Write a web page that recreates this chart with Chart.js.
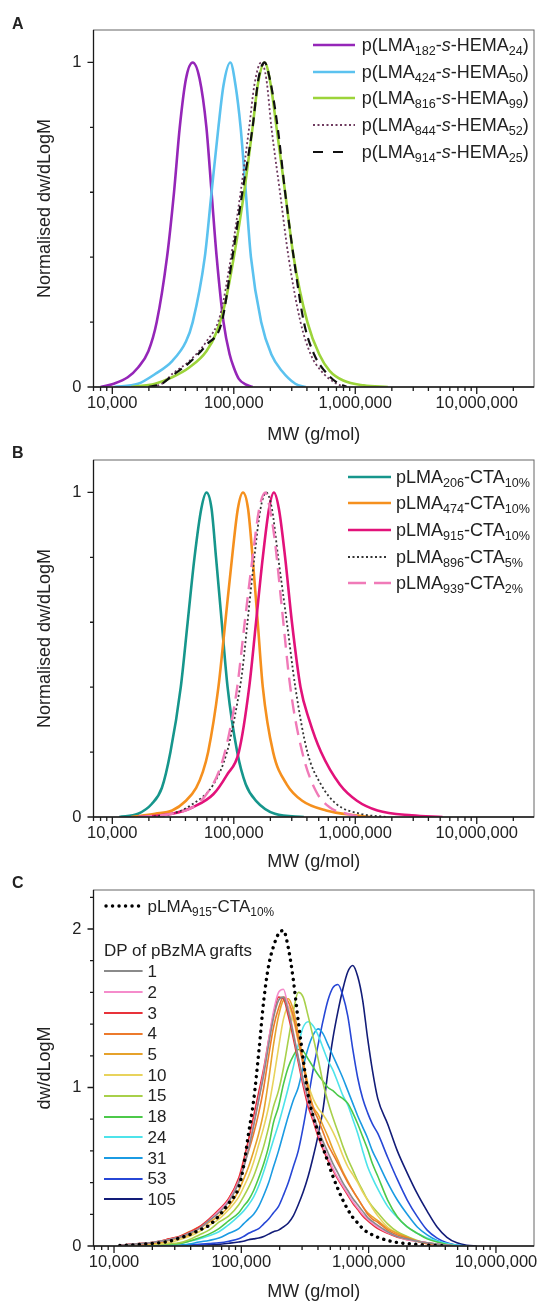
<!DOCTYPE html>
<html lang="en">
<head>
<meta charset="UTF-8">
<title>GPC traces of pLMA copolymers and graft copolymers</title>
<script src="https://cdn.jsdelivr.net/npm/chart.js"></script>
<style>
  body { margin: 0; background: #fff; font-family: "Liberation Sans", Arial, sans-serif; color: #222; }
  #page { position: relative; width: 541px; height: 1303px; overflow: hidden; background: #fff; }
  canvas { position: absolute; left: 0; }
  .tag { position: absolute; left: 12px; font-weight: bold; font-size: 16px; line-height: 1; }
  .lg { position: absolute; display: flex; align-items: center; height: 24px; white-space: nowrap; line-height: 1; }
  .lg svg { flex: none; display: block; }
  .lg sub { font-size: 70%; vertical-align: -0.35em; line-height: 0; }
  .lg-head { position: absolute; font-size: 17px; line-height: 1; white-space: nowrap; }
</style>
</head>
<body>
<div id="page">
  <canvas id="chartA" width="541" height="446" style="top:0"></canvas>
  <canvas id="chartB" width="541" height="453" style="top:420px"></canvas>
  <canvas id="chartC" width="541" height="443" style="top:860px"></canvas>
  <div class="tag" style="top:16px">A</div>
  <div class="tag" style="top:445px">B</div>
  <div class="tag" style="top:875px">C</div>
  <div class="lg-head" style="left:104px; top:942px">DP of pBzMA grafts</div>
</div>

<script>
  // ---- Panel A: p(LMA-s-HEMA) statistical copolymers (normalised) ----
  const aPurpleMw = [8000, 10300, 13400, 16300, 19800, 23200, 28200, 32200, 35900, 40400, 45900, 52300, 59500, 65600, 72300, 82300, 92500, 100000, 110000, 125000, 143000];
  const aPurple   = [0, 0.01, 0.03, 0.06, 0.11, 0.2, 0.4, 0.6, 0.8, 0.95, 1.0, 0.95, 0.8, 0.6, 0.4, 0.2, 0.1, 0.06, 0.025, 0.008, 0];
  const aBlueMw = [10300, 16300, 22500, 31100, 40400, 45900, 57700, 65600, 74700, 82300, 93700, 103300, 113800, 125600, 138400, 168000, 204000, 248000, 321000, 390000];
  const aBlue   = [0, 0.01, 0.04, 0.08, 0.14, 0.2, 0.4, 0.6, 0.8, 0.93, 1.0, 0.93, 0.8, 0.6, 0.4, 0.2, 0.1, 0.05, 0.01, 0];
  const aGreenMw = [14300, 22500, 31100, 43000, 59500, 72300, 85000, 100000, 121600, 142800, 157400, 179400, 201600, 224700, 264600, 311000, 403400, 506000, 614700, 796700, 1175000, 1853000];
  const aGreen   = [0, 0.01, 0.03, 0.06, 0.11, 0.17, 0.26, 0.4, 0.6, 0.8, 0.93, 1.0, 0.93, 0.8, 0.6, 0.4, 0.2, 0.1, 0.05, 0.02, 0.005, 0];
  const aDotMw = [19800, 25600, 31100, 43000, 59500, 77100, 94800, 113800, 133900, 147600, 168000, 185200, 204000, 240000, 282300, 354200, 430200, 522600, 699700, 851000];
  const aDot   = [0, 0.01, 0.04, 0.08, 0.14, 0.22, 0.4, 0.6, 0.8, 0.93, 1.0, 0.95, 0.8, 0.6, 0.4, 0.2, 0.1, 0.05, 0.01, 0];
  const aDashMw = [19800, 25600, 31100, 43000, 59500, 79600, 97400, 117600, 142800, 159600, 179400, 197800, 229700, 264600, 311000, 377300, 459000, 558000, 699700, 851000];
  const aDash   = [0, 0.01, 0.035, 0.075, 0.13, 0.2, 0.4, 0.6, 0.8, 0.95, 1.0, 0.95, 0.8, 0.6, 0.4, 0.2, 0.1, 0.05, 0.015, 0];

  // ---- Panel B: pLMA-CTA macromonomers (normalised) ----
  const bTealMw = [11400, 16300, 21100, 25600, 30100, 36600, 41700, 47500, 54000, 59600, 65600, 71400, 79600, 88900, 106700, 125600, 152400, 217900, 377000];
  const bTeal   = [0, 0.01, 0.04, 0.09, 0.2, 0.4, 0.6, 0.8, 0.95, 1.0, 0.95, 0.8, 0.6, 0.4, 0.2, 0.1, 0.05, 0.01, 0];
  const bOrangeMw = [14300, 22500, 31100, 40400, 49000, 55700, 61500, 74700, 85100, 96800, 108000, 119000, 131000, 142800, 157400, 173300, 210700, 273400, 365700, 576400, 1000000, 1340000];
  const bOrange   = [0, 0.01, 0.02, 0.05, 0.09, 0.14, 0.2, 0.4, 0.6, 0.8, 0.95, 1.0, 0.95, 0.8, 0.6, 0.4, 0.2, 0.1, 0.05, 0.02, 0.005, 0];
  const bPinkMw = [16300, 31100, 45900, 67800, 87900, 110000, 133900, 152400, 173300, 195000, 213900, 235000, 264600, 301000, 354200, 417000, 522600, 746000, 1032000, 1524000, 2917000, 5226000];
  const bPink   = [0, 0.01, 0.03, 0.07, 0.13, 0.2, 0.4, 0.6, 0.8, 0.95, 1.0, 0.95, 0.8, 0.6, 0.4, 0.3, 0.2, 0.1, 0.05, 0.02, 0.005, 0];
  const bDotMw = [18500, 31100, 45900, 67800, 87900, 106700, 117600, 129600, 147600, 166000, 185000, 206000, 232000, 273400, 321000, 403400, 522600, 699700, 1100000, 1853000];
  const bDot   = [0, 0.01, 0.04, 0.1, 0.2, 0.35, 0.45, 0.6, 0.8, 0.95, 1.0, 0.95, 0.8, 0.6, 0.4, 0.2, 0.1, 0.04, 0.01, 0];
  const bDashMw = [16300, 31100, 45900, 59500, 77100, 90800, 106700, 123000, 142800, 162000, 181700, 198000, 217900, 247900, 291800, 365700, 474000, 614700, 851000, 1100000];
  const bDash   = [0, 0.01, 0.03, 0.07, 0.15, 0.25, 0.4, 0.6, 0.8, 0.95, 1.0, 0.95, 0.85, 0.65, 0.4, 0.2, 0.08, 0.03, 0.01, 0];

  // ---- Panel C: graft copolymers, all on one MW grid ----
  const cMw = [11100, 13300, 15900, 19000, 22700, 27200, 32600, 38900, 46600, 55700, 66700, 79800,
    95500, 104000, 114000, 125000, 137000, 150000, 164000, 179000, 196000, 214000, 234000, 256000, 280000, 306000, 335000, 366000, 401000, 438000, 479000, 524000, 574000, 627000, 686000, 751000, 821000, 898000, 982000, 1070000, 1180000,
    1410000, 1680000, 2010000, 2410000, 2880000, 3450000, 4120000, 4930000, 5900000, 7060000];
  const cRef = [.003, .006, .01, .015, .02, .03, .05, .07, .1, .13, .19, .27,
    .37, .5, .71, .92, 1.22, 1.55, 1.77, 1.89, 1.97, 1.99, 1.88, 1.68, 1.42, 1.18, .95, .82, .72, .62, .53, .44, .36, .29, .23, .18, .145, .11, .085, .07, .055,
    .035, .022, .015, .01, .006, .003, 0, null, null, null];
  const c1 = [.005, .01, .015, .02, .03, .04, .055, .08, .11, .16, .21, .28,
    .4, .49, .61, .76, .92, 1.08, 1.27, 1.44, 1.55, 1.57, 1.48, 1.34, 1.19, 1.05, .93, .83, .74, .66, .59, .52, .46, .4, .35, .3, .26, .22, .18, .155, .13,
    .09, .06, .045, .03, .02, .012, .005, 0, null, null];
  const c2 = [.005, .01, .015, .02, .03, .04, .055, .08, .11, .16, .22, .29,
    .41, .5, .62, .77, .93, 1.1, 1.3, 1.48, 1.6, 1.62, 1.5, 1.35, 1.19, 1.04, .91, .81, .71, .63, .56, .49, .43, .38, .33, .28, .24, .2, .17, .145, .12,
    .085, .06, .04, .03, .02, .012, .005, 0, null, null];
  const c3 = [.005, .01, .015, .02, .03, .045, .06, .085, .12, .17, .23, .3,
    .43, .54, .67, .82, .97, 1.12, 1.3, 1.46, 1.57, 1.56, 1.45, 1.31, 1.16, 1.01, .88, .79, .69, .61, .54, .48, .42, .37, .32, .27, .23, .19, .16, .135, .11,
    .08, .055, .04, .03, .02, .012, .005, 0, null, null];
  const c4 = [.005, .01, .015, .02, .03, .045, .06, .09, .12, .16, .22, .3,
    .42, .51, .6, .71, .84, 1.0, 1.2, 1.38, 1.5, 1.57, 1.54, 1.45, 1.3, 1.14, .98, .87, .8, .72, .64, .58, .52, .46, .4, .35, .3, .25, .2, .17, .15,
    .1, .07, .05, .03, .015, .006, 0, null, null, null];
  const c5 = [.003, .006, .01, .015, .02, .035, .05, .07, .11, .15, .19, .25,
    .35, .42, .5, .6, .71, .85, 1.05, 1.27, 1.45, 1.55, 1.56, 1.49, 1.34, 1.17, 1.0, .88, .83, .76, .69, .61, .54, .47, .41, .35, .3, .25, .21, .185, .16,
    .11, .08, .055, .03, .018, .008, 0, null, null, null];
  const c10 = [.002, .005, .008, .012, .015, .02, .04, .06, .09, .13, .17, .23,
    .31, .37, .44, .53, .64, .75, .88, 1.05, 1.25, 1.43, 1.51, 1.43, 1.29, 1.16, 1.02, .93, .87, .83, .78, .72, .65, .57, .5, .45, .4, .34, .29, .24, .19,
    .12, .08, .05, .03, .015, .006, 0, null, null, null];
  const c15 = [.002, .005, .008, .01, .012, .015, .02, .04, .07, .1, .15, .19,
    .26, .31, .37, .44, .53, .63, .75, .88, .98, 1.12, 1.3, 1.48, 1.6, 1.57, 1.45, 1.32, 1.18, 1.03, .91, .81, .72, .63, .55, .48, .41, .35, .29, .25, .21,
    .14, .09, .06, .035, .018, .008, 0, null, null, null];
  const c18 = [.002, .004, .006, .008, .01, .012, .015, .03, .05, .075, .11, .16,
    .21, .25, .29, .35, .43, .52, .63, .78, .88, 1.02, 1.13, 1.2, 1.24, 1.23, 1.18, 1.13, 1.08, 1.04, 1.0, .98, .95, .93, .9, .84, .77, .69, .61, .52, .44,
    .29, .185, .12, .08, .045, .025, .01, 0, null, null];
  const c24 = [.002, .004, .006, .008, .01, .012, .015, .03, .045, .065, .09, .135,
    .19, .22, .26, .31, .38, .47, .57, .67, .77, .88, 1.0, 1.13, 1.27, 1.38, 1.415, 1.39, 1.33, 1.25, 1.17, 1.11, 1.03, .95, .89, .8, .71, .6, .5, .43, .36,
    .25, .18, .12, .08, .05, .03, .015, .005, 0, null];
  const c31 = [.001, .002, .003, .004, .005, .005, .005, .012, .025, .035, .05, .08,
    .11, .14, .17, .2, .25, .32, .4, .5, .6, .71, .82, .92, 1.0, 1.13, 1.25, 1.33, 1.37, 1.34, 1.27, 1.2, 1.13, 1.06, .98, .9, .82, .75, .68, .6, .53,
    .4, .29, .2, .12, .07, .035, .015, .005, 0, null];
  const c53 = [null, null, null, null, 0, .003, .005, .007, .01, .015, .02, .03,
    .045, .06, .08, .095, .11, .14, .17, .21, .25, .32, .4, .5, .6, .75, .93, 1.11, 1.27, 1.42, 1.55, 1.63, 1.65, 1.58, 1.45, 1.24, 1.06, .93, .84, .77, .71,
    .56, .42, .29, .185, .1, .05, .02, .005, 0, null];
  const c105 = [null, null, null, null, null, 0, .002, .004, .005, .007, .01, .017,
    .025, .03, .04, .045, .05, .06, .075, .09, .1, .12, .145, .19, .26, .34, .44, .56, .7, .86, 1.1, 1.31, 1.48, 1.62, 1.73, 1.77, 1.7, 1.55, 1.31, 1.11, .93,
    .77, .6, .46, .33, .22, .12, .055, .02, .005, 0];

  // axis ticks
  const abYTicks = [0, 0.2, 0.4, 0.6, 0.8, 1.0];
  const cYTicks = [0, 0.2, 0.4, 0.6, 0.8, 1.0, 1.2, 1.4, 1.6, 1.8, 2.0, 2.2];

  Chart.defaults.font.family = '"Liberation Sans", Arial, sans-serif';
  Chart.defaults.color = '#222';

  const isWhole = v => Math.abs(v - Math.round(v)) < 1e-6;
  const isDecade = v => isWhole(Math.log10(v));

  // Frame, axis lines and tick marks (major longer than minor)
  const axisDecor = {
    id: 'axisDecor',
    afterDraw(chart) {
      const { ctx, chartArea: a, scales: { x, y } } = chart;
      ctx.save();
      ctx.strokeStyle = '#666';
      ctx.lineWidth = 1;
      ctx.strokeRect(a.left, a.top, a.right - a.left, a.bottom - a.top);
      ctx.strokeStyle = '#1a1a1a';
      ctx.lineWidth = 1.3;
      ctx.beginPath();
      ctx.moveTo(a.left, a.top);
      ctx.lineTo(a.left, a.bottom);
      ctx.lineTo(a.right, a.bottom);
      x.ticks.forEach(t => {
        const e = Math.floor(Math.log10(t.value) + 1e-9);
        const m = t.value / Math.pow(10, e);
        if (!isWhole(m)) return;
        const px = x.getPixelForValue(t.value);
        if (px < a.left - 0.5 || px > a.right + 0.5) return;
        ctx.moveTo(px, a.bottom);
        ctx.lineTo(px, a.bottom + (Math.round(m) === 1 ? 7 : 4));
      });
      y.ticks.forEach(t => {
        const py = y.getPixelForValue(t.value);
        ctx.moveTo(a.left, py);
        ctx.lineTo(a.left - (isWhole(t.value) ? 6 : 3.5), py);
      });
      ctx.stroke();
      ctx.restore();
    }
  };

  const pts = (mw, v) => mw.map((m, i) => ({ x: m, y: v[i] }));

  function line(label, mw, v, color, width, dash, cap) {
    return {
      label, data: pts(mw, v), borderColor: color, borderWidth: width,
      borderDash: dash || [], borderCapStyle: cap || 'butt',
      pointRadius: 0, fill: false, cubicInterpolationMode: 'monotone'
    };
  }

  function panel(id, datasets, xMin, xMax, yMax, yTicks, yTitle, padTop, xH) {
    return new Chart(document.getElementById(id), {
      type: 'line',
      data: { datasets },
      options: {
        responsive: false,
        animation: false,
        devicePixelRatio: 1,
        layout: { padding: { top: padTop, right: 3, left: 0, bottom: 0 } },
        plugins: { legend: { display: false }, tooltip: { enabled: false } },
        scales: {
          x: {
            type: 'logarithmic', min: xMin, max: xMax,
            grid: { display: false, drawTicks: false }, border: { display: false },
            ticks: {
              autoSkip: false, maxRotation: 0, minRotation: 0, padding: 7,
              font: { size: 16.5 }, color: '#222',
              callback: v => isDecade(v) ? Math.round(v).toLocaleString('en-US') : ''
            },
            title: { display: true, text: 'MW (g/mol)', font: { size: 18 }, color: '#222', padding: 0 },
            afterFit: s => { s.height = xH; }
          },
          y: {
            min: 0, max: yMax,
            grid: { display: false, drawTicks: false }, border: { display: false },
            afterBuildTicks: s => { s.ticks = yTicks.map(v => ({ value: v })); },
            ticks: {
              autoSkip: false, padding: 12, font: { size: 16.5 }, color: '#222',
              callback: v => isWhole(v) ? String(Math.round(v)) : ''
            },
            title: { display: true, text: yTitle, font: { size: 18 }, color: '#222', padding: { top: 34, bottom: 0 } },
            afterFit: s => { s.width = 93.5; }
          }
        }
      },
      plugins: [axisDecor]
    });
  }

  // colours
  const A_PURPLE = '#9526b8', A_BLUE = '#5bc2ef', A_GREEN = '#9cd43a', A_DOT = '#6e3a5e', A_DASH = '#111';
  const B_TEAL = '#16968c', B_ORANGE = '#f5901e', B_PINK = '#e2127a', B_DOT = '#333', B_DASH = '#f07ab8';
  const C_COLS = ['#8a8a8a', '#f58ccb', '#e8333a', '#ec7a2c', '#e6a22b', '#e8d35c', '#a8d04a', '#4cc94a', '#4de3ea', '#1b9be3', '#2747d6', '#121c78'];
  const cDP = ['1', '2', '3', '4', '5', '10', '15', '18', '24', '31', '53', '105'];
  const cSeries = [c1, c2, c3, c4, c5, c10, c15, c18, c24, c31, c53, c105];

  panel('chartA', [
    line('p(LMA914-s-HEMA25)', aDashMw, aDash, A_DASH, 2.2, [9, 6]),
    line('p(LMA844-s-HEMA52)', aDotMw, aDot, A_DOT, 1.8, [2, 2.5]),
    line('p(LMA816-s-HEMA99)', aGreenMw, aGreen, A_GREEN, 2.6),
    line('p(LMA424-s-HEMA50)', aBlueMw, aBlue, A_BLUE, 2.6),
    line('p(LMA182-s-HEMA24)', aPurpleMw, aPurple, A_PURPLE, 2.6)
  ], 7000, 29600000, 1.1, abYTicks, 'Normalised dw/dLogM', 30, 59);

  panel('chartB', [
    line('pLMA939-CTA2%', bDashMw, bDash, B_DASH, 2.4, [14, 8]),
    line('pLMA896-CTA5%', bDotMw, bDot, B_DOT, 1.8, [2, 2.5]),
    line('pLMA915-CTA10%', bPinkMw, bPink, B_PINK, 2.6),
    line('pLMA474-CTA10%', bOrangeMw, bOrange, B_ORANGE, 2.6),
    line('pLMA206-CTA10%', bTealMw, bTeal, B_TEAL, 2.6)
  ], 7000, 29600000, 1.1, abYTicks, 'Normalised dw/dLogM', 40, 56);

  const cSets = [line('pLMA915-CTA10%', cMw, cRef, '#000', 3.4, [0.1, 6.4], 'round')];
  cSeries.forEach((s, i) => cSets.push(line('DP ' + cDP[i], cMw, s, C_COLS[i], 1.6)));
  panel('chartC', cSets, 6900, 19900000, 2.246, cYTicks, 'dw/dLogM', 30, 57);

  // HTML legends (allow subscripts and italics)
  function addLegend(rows, left, boxLen, gap, fontSize) {
    const page = document.getElementById('page');
    rows.forEach(r => {
      const el = document.createElement('div');
      el.className = 'lg';
      el.style.left = left + 'px';
      el.style.top = (r.y - 12) + 'px';
      el.style.fontSize = fontSize + 'px';
      const len = r.len || boxLen;
      const x1 = r.cap === 'round' ? 2 : 0;
      const dash = r.dash ? ` stroke-dasharray="${r.dash}"` : '';
      el.innerHTML = `<svg width="${boxLen}" height="8"><line x1="${x1}" y1="4" x2="${len}" y2="4" stroke="${r.color}" stroke-width="${r.w}" stroke-linecap="${r.cap || 'butt'}"${dash}/></svg>` +
        `<span style="margin-left:${gap}px">${r.html}</span>`;
      page.appendChild(el);
    });
  }

  addLegend([
    { y: 45, html: 'p(LMA<sub>182</sub>-<i>s</i>-HEMA<sub>24</sub>)', color: A_PURPLE, w: 2.6 },
    { y: 71.7, html: 'p(LMA<sub>424</sub>-<i>s</i>-HEMA<sub>50</sub>)', color: A_BLUE, w: 2.6 },
    { y: 98.3, html: 'p(LMA<sub>816</sub>-<i>s</i>-HEMA<sub>99</sub>)', color: A_GREEN, w: 2.6 },
    { y: 125, html: 'p(LMA<sub>844</sub>-<i>s</i>-HEMA<sub>52</sub>)', color: A_DOT, w: 1.8, dash: '2 2.5' },
    { y: 151.7, html: 'p(LMA<sub>914</sub>-<i>s</i>-HEMA<sub>25</sub>)', color: A_DASH, w: 2.2, dash: '10 10', len: 30 }
  ], 313, 42, 6.7, 18);

  addLegend([
    { y: 476.7, html: 'pLMA<sub>206</sub>-CTA<sub>10%</sub>', color: B_TEAL, w: 2.6 },
    { y: 503.3, html: 'pLMA<sub>474</sub>-CTA<sub>10%</sub>', color: B_ORANGE, w: 2.6 },
    { y: 530, html: 'pLMA<sub>915</sub>-CTA<sub>10%</sub>', color: B_PINK, w: 2.6 },
    { y: 556.7, html: 'pLMA<sub>896</sub>-CTA<sub>5%</sub>', color: B_DOT, w: 1.8, dash: '2 2.5', len: 38 },
    { y: 583.3, html: 'pLMA<sub>939</sub>-CTA<sub>2%</sub>', color: B_DASH, w: 2.4, dash: '18 8' }
  ], 348, 43, 5, 18);

  const cRows = [{ y: 906, html: 'pLMA<sub>915</sub>-CTA<sub>10%</sub>', color: '#000', w: 3.4, dash: '0.1 6.4', cap: 'round', len: 37 }];
  const cRowY = [971, 992.3, 1013, 1033.7, 1054.3, 1075, 1095.7, 1116.7, 1137.3, 1158, 1178.7, 1199.3];
  cDP.forEach((d, i) => cRows.push({ y: cRowY[i], html: d, color: C_COLS[i], w: 2 }));
  addLegend(cRows, 104, 38.6, 5, 17);
</script>
</body>
</html>
